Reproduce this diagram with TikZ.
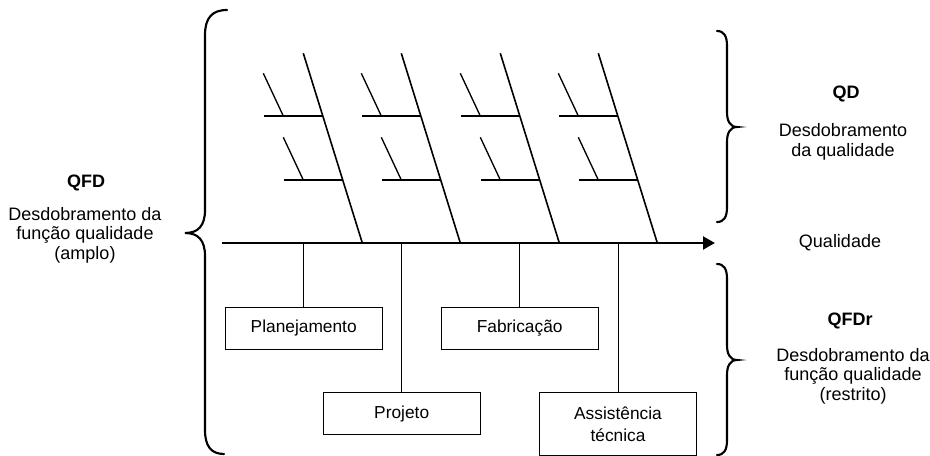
\documentclass[tikz,border=0pt]{standalone}
\usepackage{fontspec}
\setmainfont{Liberation Sans}
\usetikzlibrary{arrows.meta}

\tikzset{every picture/.style={line width=0.75pt}}
\tikzset{
  spine/.style={line width=1.2pt},
  rib/.style={line width=1.5pt},
  twig/.style={line width=1pt},
  brace/.style={line width=1.6pt, line cap=round},
  axis/.style={line width=2.2pt, -{Triangle[length=9pt,width=9.5pt]}},
  area/.style={draw, line width=0.75pt, minimum width=117.75pt, minimum height=31.5pt, align=center, font=\fontsize{13}{16.5}\selectfont},
  label/.style={align=center, font=\fontsize{13.5}{14.6}\selectfont},
  title/.style={font=\bfseries\fontsize{13.5}{14}\selectfont}
}

\begin{document}
\begin{tikzpicture}[x=0.75pt,y=0.75pt,yscale=-1,xscale=1]
\useasboundingbox (0,0) rectangle (930,456);

%Main axis
\coordinate (tail) at (222,243);
\coordinate (head) at (715,243);
\draw [axis] (tail) -- (head);

%Fish bone 1
\draw [spine] (303.3,53.3) -- (362.3,243);
\draw [rib] (264,116) -- (323,116);
\draw [twig] (263.3,73.3) -- (283.3,116);
\draw [rib] (284,180) -- (343,180);
\draw [twig] (283.3,137.3) -- (303.3,180);
%Fish bone 2
\draw [spine] (401.3,53.3) -- (460.3,243);
\draw [rib] (362,116) -- (421,116);
\draw [twig] (361.3,73.3) -- (381.3,116);
\draw [rib] (382,180) -- (441,180);
\draw [twig] (381.3,137.3) -- (401.3,180);
%Fish bone 3
\draw [spine] (500.3,53.3) -- (559.3,243);
\draw [rib] (461,116) -- (520,116);
\draw [twig] (460.3,73.3) -- (480.3,116);
\draw [rib] (481,180) -- (540,180);
\draw [twig] (480.3,137.3) -- (500.3,180);
%Fish bone 4
\draw [spine] (598.3,53.3) -- (657.3,243);
\draw [rib] (559,116) -- (618,116);
\draw [twig] (558.3,73.3) -- (578.3,116);
\draw [rib] (579,180) -- (638,180);
\draw [twig] (578.3,137.3) -- (598.3,180);

% Boxes
\node [area] (plan) at (303.7,328.3) {Planejamento};
\node [area] (proj) at (401.7,413.7) {Projeto};
\node [area] (fabr) at (519.7,328.3) {Fabricação};
\node [area, minimum height=47.25pt] (assist) at (618,424.2) {Assistência\\técnica};

\draw (plan.north) -- (plan.north |- tail);
\draw (proj.north) -- (proj.north |- tail);
\draw (fabr.north) -- (fabr.north |- tail);
\draw (assist.north) -- (assist.north |- tail);

%Braces
\draw [brace] (227,10) .. controls (212,10) and (205,18) .. (205,35) -- (205,210) .. controls (205,226) and (198,233) .. (185,233) .. controls (198,233) and (205,240) .. (205,256) -- (205,430) .. controls (205,446) and (211,454) .. (224,454);
\draw [brace] (717,31) .. controls (724,31) and (727,36) .. (727,46) -- (727,112) .. controls (727,121) and (730,127) .. (737,127) .. controls (730,127) and (727,133) .. (727,142) -- (727,207) .. controls (727,217) and (724,222) .. (717,222);
\draw [brace] (717,264) .. controls (724,264) and (727,269) .. (727,279) -- (727,345) .. controls (727,354) and (730,360) .. (737,360) .. controls (730,360) and (727,366) .. (727,375) -- (727,440) .. controls (727,450) and (724,455) .. (717,455);

% Text Node
\node [title] (qfd) at (86,183) {QFD};
\node [label] (qfdtxt) at (85,235) {Desdobramento da\\função qualidade\\(amplo)};
\node [title] (qd) at (846,94) {QD};
\node [label] (qdtxt) at (843,142) {Desdobramento\\da qualidade};
\node [label] (qual) at (840,243) {Qualidade};
\node [title] (qfdr) at (850,321) {QFDr};
\node [label] (qfdrtxt) at (853,376) {Desdobramento da\\função qualidade\\(restrito)};
\end{tikzpicture}
\end{document}
